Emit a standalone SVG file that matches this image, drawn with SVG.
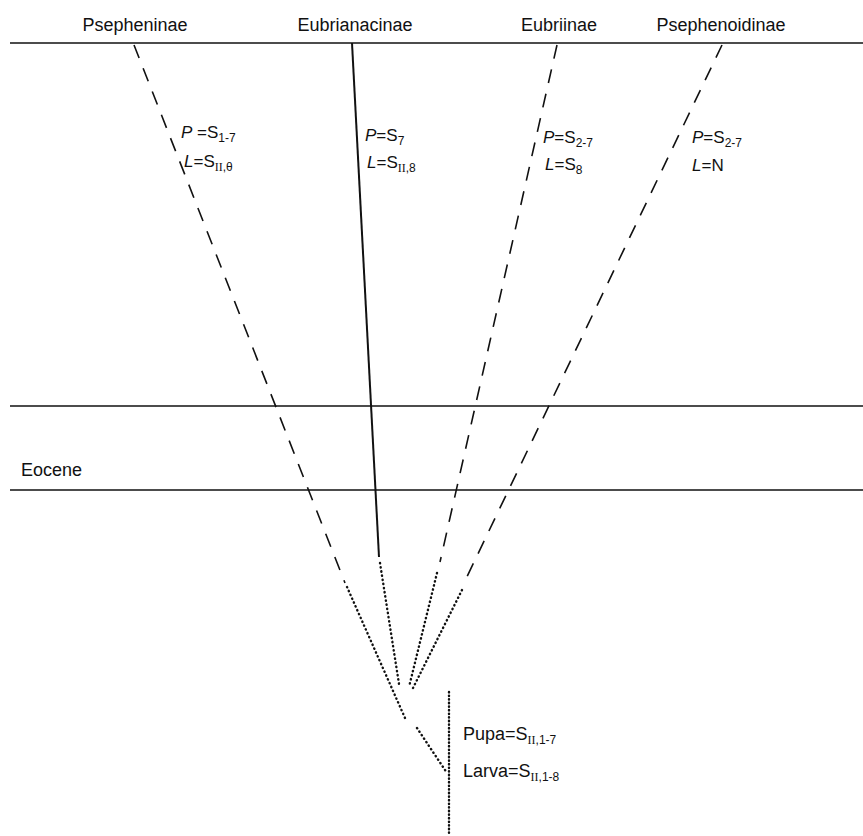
<svg xmlns="http://www.w3.org/2000/svg" width="863" height="836" viewBox="0 0 863 836">
<style>
text{font-family:"Liberation Sans","Noto Sans",Arial,sans-serif;fill:#111}
.lbl{font-size:18px;text-anchor:middle}
.f{font-size:17px}
.it{font-style:italic}
.sub{font-size:12px}
.rule{stroke:#111;stroke-width:1.6;fill:none}
.dash{stroke:#111;stroke-width:1.6;fill:none;stroke-dasharray:14 11}
.solid{stroke:#111;stroke-width:2;fill:none}
.dot{stroke:#111;stroke-width:2.4;fill:none;stroke-linecap:round;stroke-dasharray:0.4 3.8}
.vdot{stroke:#111;stroke-width:2.4;fill:none;stroke-linecap:round;stroke-dasharray:0.4 3.2}
</style>
<rect width="863" height="836" fill="#fff"/>
<g id="timescale">
<line class="rule" x1="10" y1="43" x2="863" y2="43"/>
<line class="rule" x1="10" y1="406" x2="863" y2="406"/>
<line class="rule" x1="10" y1="490" x2="863" y2="490"/>
<text id="eocene" x="21" y="476" font-size="18px">Eocene</text>
</g>
<g id="connectors">
<line class="dash" x1="134" y1="45" x2="345" y2="583"/>
<polyline class="dot" points="347,587 405,718"/>
<polyline class="dot" points="417,728 447,773"/>
<line class="solid" x1="352" y1="43" x2="379" y2="557"/>
<line class="dot" x1="380" y1="563" x2="399" y2="684"/>
<line class="dash" x1="557" y1="45" x2="440" y2="562"/>
<line class="dot" x1="437" y1="573" x2="409" y2="687"/>
<line class="dash" x1="722" y1="45" x2="463" y2="585"/>
<line class="dot" x1="462" y1="590" x2="413" y2="688"/>
<line class="vdot" x1="449" y1="692" x2="449" y2="836"/>
</g>
<g id="psepheninae">
<text class="lbl" x="135" y="31">Psepheninae</text>
<text class="f" x="181" y="138"><tspan class="it">P</tspan> =S<tspan class="sub" dy="4">1-7</tspan></text>
<text class="f" x="184" y="167"><tspan class="it">L</tspan>=S<tspan class="sub" dy="4" font-family="Liberation Serif">II</tspan><tspan class="sub">,θ</tspan></text>
</g>
<g id="eubrianacinae">
<text class="lbl" x="355" y="31">Eubrianacinae</text>
<text class="f" x="365" y="141"><tspan class="it">P</tspan>=S<tspan class="sub" dy="4">7</tspan></text>
<text class="f" x="367" y="168"><tspan class="it">L</tspan>=S<tspan class="sub" dy="4" font-family="Liberation Serif">II</tspan><tspan class="sub">,8</tspan></text>
</g>
<g id="eubriinae">
<text class="lbl" x="559" y="31">Eubriinae</text>
<text class="f" x="543" y="143"><tspan class="it">P</tspan>=S<tspan class="sub" dy="4">2-7</tspan></text>
<text class="f" x="545" y="170"><tspan class="it">L</tspan>=S<tspan class="sub" dy="4">8</tspan></text>
</g>
<g id="psephenoidinae">
<text class="lbl" x="721" y="31">Psephenoidinae</text>
<text class="f" x="692" y="143"><tspan class="it">P</tspan>=S<tspan class="sub" dy="4">2-7</tspan></text>
<text class="f" x="692" y="171"><tspan class="it">L</tspan>=N</text>
</g>
<g id="ancestor">
<text x="463" y="740" font-size="18px">Pupa=S<tspan class="sub" dy="4" font-family="Liberation Serif">II</tspan><tspan class="sub">,1-7</tspan></text>
<text x="463" y="777" font-size="18px">Larva=S<tspan class="sub" dy="4" font-family="Liberation Serif">II</tspan><tspan class="sub">,1-8</tspan></text>
</g>
</svg>
